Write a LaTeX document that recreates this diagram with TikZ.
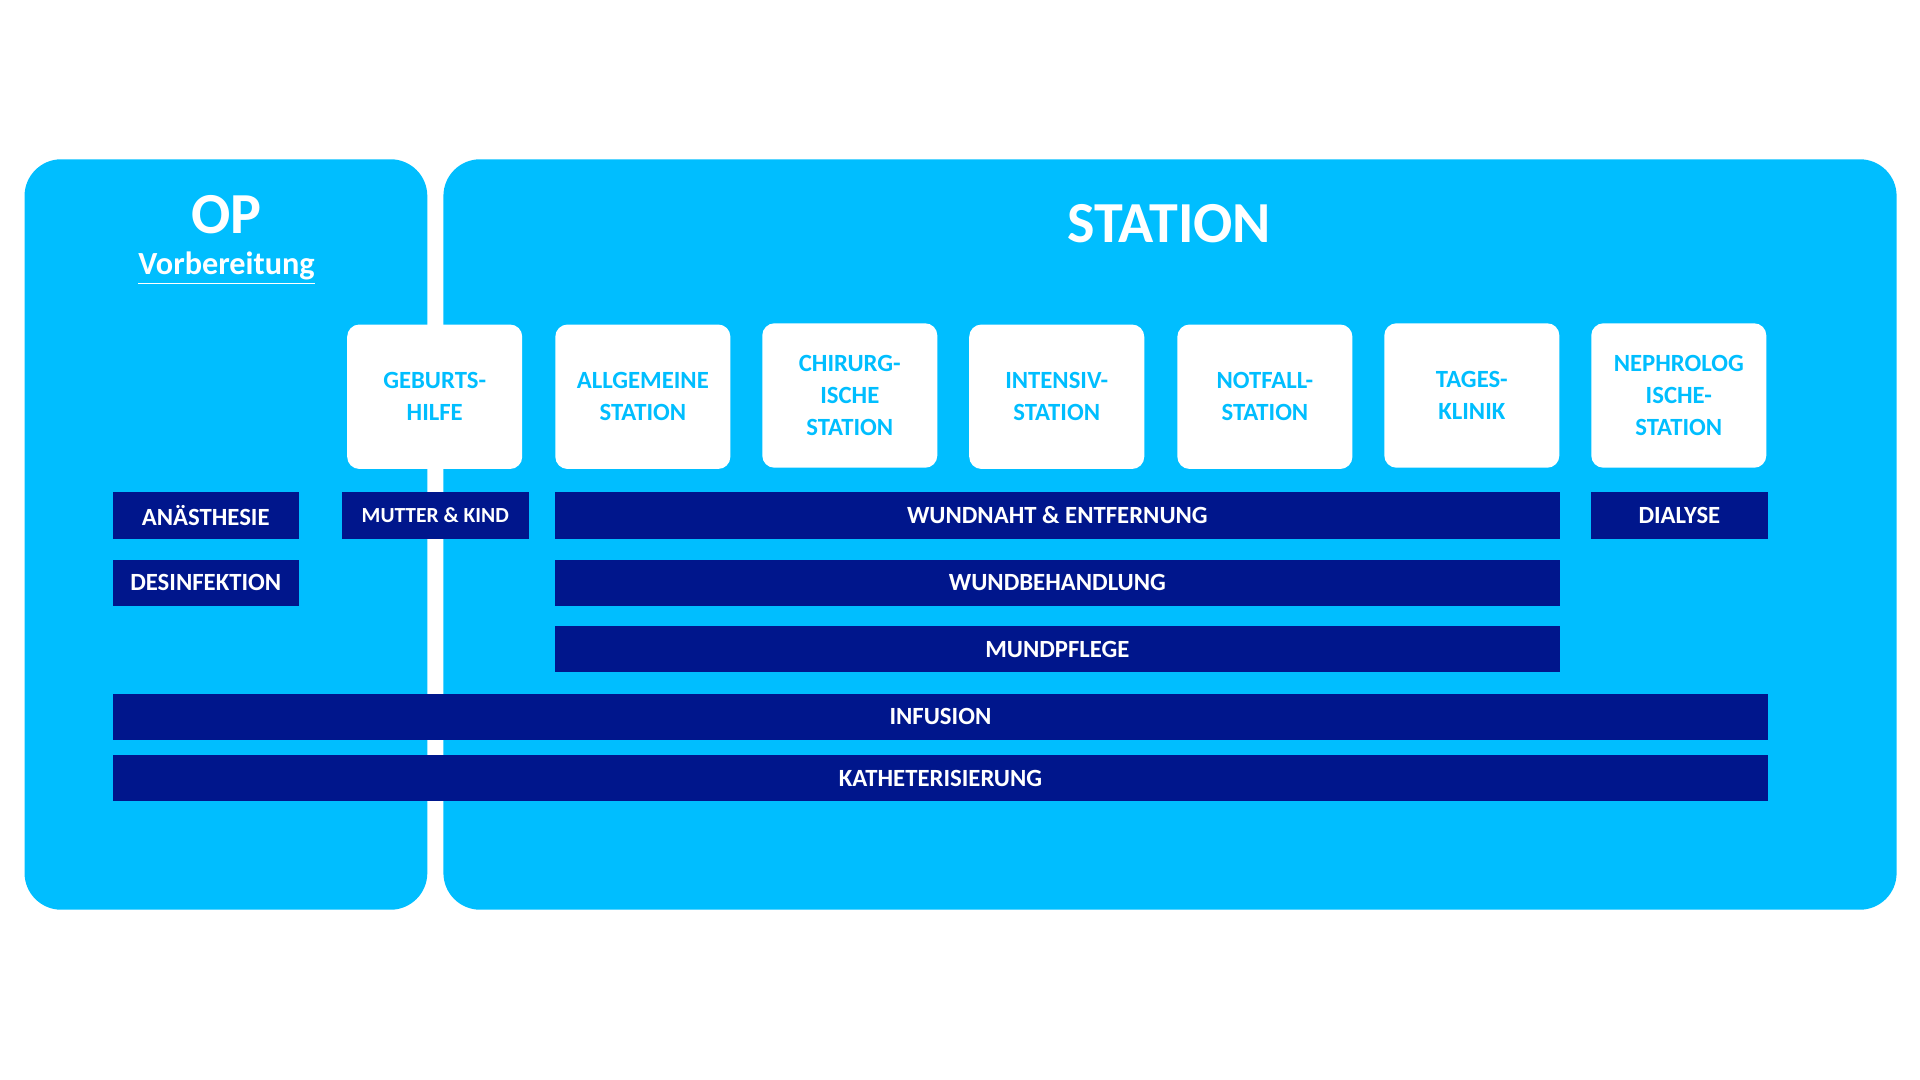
\documentclass[tikz,border=0pt]{standalone}
\usepackage{fontspec}
\setmainfont{Carlito}
\usetikzlibrary{positioning}
\definecolor{panel}{RGB}{0,190,255}
\definecolor{navy}{RGB}{0,22,140}

\begin{document}
\begin{tikzpicture}[
    x=0.02cm, y=-0.02cm,
    panel/.style={rectangle, fill=panel, rounded corners=0.6cm, inner sep=0pt},
    ward/.style={rectangle, fill=white, rounded corners=0.2cm, minimum width=2.86cm, minimum height=2.36cm, text centered, align=center, font=\bfseries\fontsize{11.5}{15}\selectfont, text=panel, inner sep=0pt},
    task/.style={rectangle, fill=navy, minimum height=0.76cm, text centered, font=\bfseries\fontsize{11.5}{14}\selectfont, text=white, inner sep=0pt},
    title/.style={font=\bfseries\fontsize{27}{30}\selectfont, text=white}
]
\useasboundingbox (0,0) rectangle (1568,882);

% Panels
\node[panel, minimum width=6.58cm, minimum height=12.26cm] (op) at (184.5,436.5) {};
\node[panel, minimum width=23.74cm, minimum height=12.26cm] (station) at (955.5,436.5) {};
\node[title] (optitle) at (185,175) {OP};
\node[font=\bfseries\fontsize{15}{18}\selectfont, text=white] (prep) at (185,219) {\underline{Vorbereitung}};
\node[title] (sttitle) at (955,183) {STATION};

% Wards
\node[ward] (geburt) at (355,324) {GEBURTS-\\HILFE};
\node[ward] (allg) at (525,324) {ALLGEMEINE\\STATION};
\node[ward] (chir) at (694,323) {CHIRURG-\\ISCHE\\STATION};
\node[ward] (intens) at (863,324) {INTENSIV-\\STATION};
\node[ward] (notfall) at (1033,324) {NOTFALL-\\STATION};
\node[ward] (tages) at (1202,323) {TAGES-\\KLINIK};
\node[ward] (nephro) at (1371,323) {NEPHROLOG\\ISCHE-\\STATION};

% Tasks
\node[task, minimum width=3.04cm] (anaest) at (168,421) {ANÄSTHESIE};
\node[task, minimum width=3.06cm, font=\bfseries\fontsize{10}{12}\selectfont] (mutter) at (355.5,421) {MUTTER \& KIND};
\node[task, minimum width=16.42cm] (wundnaht) at (863.5,421) {WUNDNAHT \& ENTFERNUNG};
\node[task, minimum width=2.9cm] (dialyse) at (1371.5,421) {DIALYSE};
\node[task, minimum width=3.04cm] (desinf) at (168,476) {DESINFEKTION};
\node[task, minimum width=16.42cm] (wundbeh) at (863.5,476) {WUNDBEHANDLUNG};
\node[task, minimum width=16.42cm] (mund) at (863.5,530) {MUNDPFLEGE};
\node[task, minimum width=27.04cm] (infusion) at (768,585.5) {INFUSION};
\node[task, minimum width=27.04cm] (katheter) at (768,635.5) {KATHETERISIERUNG};

\end{tikzpicture}
\end{document}
